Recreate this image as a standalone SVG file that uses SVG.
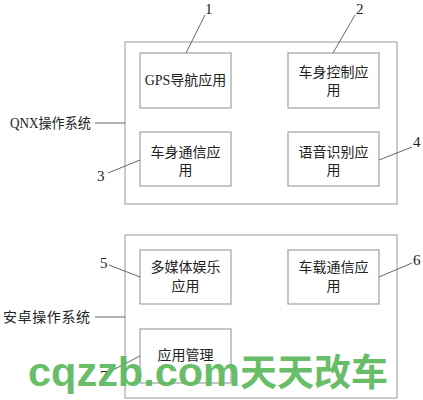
<svg xmlns="http://www.w3.org/2000/svg" width="423" height="400" viewBox="0 0 423 400">
<style>
.outer{fill:none;stroke:#b0b0b0;stroke-width:1.3}
.box{fill:#fff;stroke:#a8a8a8;stroke-width:1.3}
.ln{stroke:#555;stroke-width:0.9;fill:none}
.t{font-family:"Liberation Serif","Noto Sans CJK SC",serif;font-size:14px;fill:#222}
.c{text-anchor:middle}
.n{font-family:"Liberation Serif",serif;font-size:15px;fill:#222}
.wm{font-family:"Liberation Sans","Noto Sans CJK SC",sans-serif;font-weight:bold;fill:#5cb85c;opacity:0.92}
</style>
<rect width="423" height="400" fill="#fff"/>
<g id="qnx-system">
<rect class="outer" x="125" y="42" width="272" height="162"/>
<text class="t" x="10" y="128" textLength="81" lengthAdjust="spacingAndGlyphs">QNX操作系统</text>
</g>
<g id="android-system">
<rect class="outer" x="125" y="235" width="272" height="163"/>
<text class="t" x="3" y="322" textLength="87">安卓操作系统</text>
</g>
<g id="node1"><rect class="box" x="140" y="53" width="91" height="55"/><text class="t c" x="185.5" y="85">GPS导航应用</text></g>
<g id="node2"><rect class="box" x="288" y="53" width="91" height="55"/><text class="t c" x="333.5" y="77">车身控制应</text><text class="t c" x="333.5" y="95">用</text></g>
<g id="node3"><rect class="box" x="140" y="132" width="91" height="54"/><text class="t c" x="185.5" y="157">车身通信应</text><text class="t c" x="185.5" y="175">用</text></g>
<g id="node4"><rect class="box" x="288" y="132" width="91" height="54"/><text class="t c" x="333.5" y="157">语音识别应</text><text class="t c" x="333.5" y="175">用</text></g>
<g id="node5"><rect class="box" x="140" y="250" width="91" height="54"/><text class="t c" x="185.5" y="272">多媒体娱乐</text><text class="t c" x="185.5" y="291">应用</text></g>
<g id="node6"><rect class="box" x="288" y="250" width="91" height="54"/><text class="t c" x="333.5" y="272">车载通信应</text><text class="t c" x="333.5" y="291">用</text></g>
<g id="node7"><rect class="box" x="140" y="329" width="91" height="54"/><text class="t c" x="185.5" y="360">应用管理</text></g>
<g id="connectors">
<line class="ln" x1="95" y1="123" x2="125" y2="123"/>
<line class="ln" x1="95" y1="317" x2="125" y2="317"/>
<line class="ln" x1="186" y1="53" x2="205" y2="15"/>
<line class="ln" x1="333" y1="53" x2="355" y2="15"/>
<line class="ln" x1="108" y1="173" x2="140" y2="160"/>
<line class="ln" x1="379" y1="160" x2="412" y2="147"/>
<line class="ln" x1="109" y1="265" x2="140" y2="277"/>
<line class="ln" x1="379" y1="277" x2="412" y2="263"/>
<line class="ln" x1="107" y1="373" x2="140" y2="356"/>
</g>
<g id="labels">
<text class="n" x="205" y="14">1</text>
<text class="n" x="356" y="14">2</text>
<text class="n" x="97" y="181">3</text>
<text class="n" x="413" y="147">4</text>
<text class="n" x="100" y="268">5</text>
<text class="n" x="413" y="265">6</text>
<text class="n" x="100" y="381">7</text>
</g>
<g id="watermark">
<text class="wm" x="28" y="386" font-size="41" textLength="212" lengthAdjust="spacingAndGlyphs">cqzzb.com</text>
<text class="wm" x="240" y="386" font-size="37" textLength="148" lengthAdjust="spacingAndGlyphs">天天改车</text>
</g>
</svg>
